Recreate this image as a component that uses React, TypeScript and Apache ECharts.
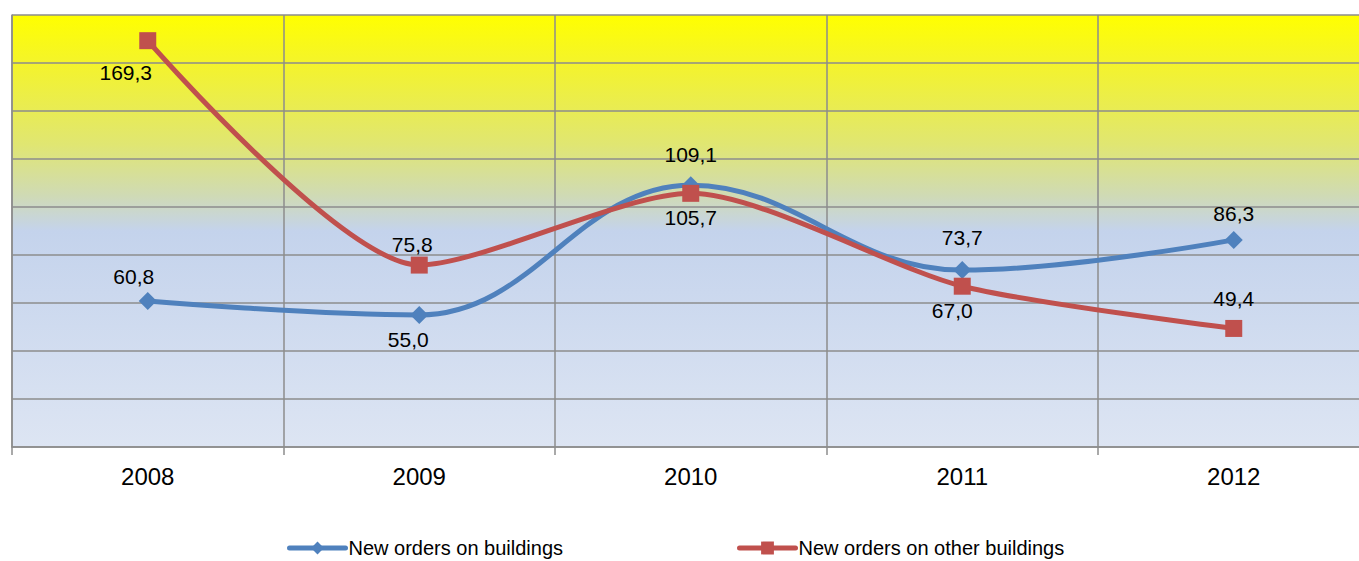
import React, { useEffect, useRef } from "react";
import * as echarts from "echarts";

const years = ["2008", "2009", "2010", "2011", "2012"];
const buildings = [60.8, 55.0, 109.1, 73.7, 86.3];
const otherBuildings = [169.3, 75.8, 105.7, 67.0, 49.4];
const blueLabelPos = ["top", "bottom", "top", "top", "top"];
const blueLabelOffset = [[-14, 0], [-11, 0], [0, -6], [0, -8], [0, -2]];
const redLabelPos = ["bottom", "top", "bottom", "bottom", "top"];
const redLabelOffset = [[-22, 8], [-7, 3], [0, 0], [-10, 0], [0, -6]];

const BLUE = "#4F81BD";
const RED = "#C0504D";
const labelFont = "'Liberation Sans Narrow', 'Arial Narrow', 'Liberation Sans', Arial, sans-serif";

function fmt(v: number) {
  return v.toFixed(1).replace(".", ",");
}

export default function App() {
  const ref = useRef<HTMLDivElement>(null);
  useEffect(() => {
    if (!ref.current) return;
    const chart = echarts.init(ref.current, undefined, { renderer: "svg" });
    const mkData = (vals: number[], pos: string[], off: number[][]) =>
      vals.map((v, i) => ({
        value: v,
        label: { position: pos[i], offset: off[i] },
      }));
    const legendCommon = {
      top: 538,
      padding: 0,
      itemWidth: 56,
      itemHeight: 16,
      itemGap: 4,
      lineStyle: { width: 5, cap: "round" },
      textStyle: { fontFamily: labelFont, fontSize: 20, color: "#000", padding: [0, 0, 0, -2] },
    };
    chart.setOption({
      animation: false,
      backgroundColor: "#ffffff",
      grid: {
        left: 12,
        top: 15,
        width: 1357.5,
        height: 432,
        outerBoundsMode: "none",
        containLabel: false,
        show: true,
        borderWidth: 0,
        backgroundColor: new echarts.graphic.LinearGradient(0, 0, 0, 1, [
          { offset: 0, color: "#FFFF00" },
          { offset: 0.12, color: "#F3F32E" },
          { offset: 0.3, color: "#E0E672" },
          { offset: 0.42, color: "#CFDAB6" },
          { offset: 0.5, color: "#C4D3EC" },
          { offset: 1, color: "#DDE5F3" },
        ]),
      },
      legend: [
        { ...legendCommon, left: 287, data: ["New orders on buildings"] },
        { ...legendCommon, left: 737, data: ["New orders on other buildings"] },
      ],
      xAxis: {
        type: "category",
        data: years,
        boundaryGap: true,
        axisLine: { show: true, lineStyle: { color: "#8C8C8C", width: 1.5 } },
        axisTick: { show: true, length: 8, lineStyle: { color: "#8C8C8C", width: 1.5 } },
        axisLabel: {
          color: "#000",
          fontSize: 24,
          fontFamily: "'Liberation Sans', Arial, sans-serif",
          margin: 17,
        },
        splitLine: { show: true, lineStyle: { color: "#8C8C8C", width: 1.5 } },
      },
      yAxis: {
        type: "value",
        min: 0,
        max: 180,
        interval: 20,
        axisLine: { show: true, lineStyle: { color: "#8C8C8C", width: 1.5 } },
        axisTick: { show: false },
        axisLabel: { show: false },
        splitLine: { show: true, lineStyle: { color: "#8C8C8C", width: 1.5 } },
      },
      series: [
        {
          name: "New orders on buildings",
          type: "line",
          smooth: 0.4,
          data: mkData(buildings, blueLabelPos, blueLabelOffset),
          symbol: "diamond",
          symbolSize: 18,
          lineStyle: { color: BLUE, width: 5 },
          itemStyle: { color: BLUE },
          label: {
            show: true,
            formatter: (p: any) => fmt(p.value),
            fontFamily: labelFont,
            fontSize: 21,
            color: "#000",
          },
        },
        {
          name: "New orders on other buildings",
          type: "line",
          smooth: 0.25,
          data: mkData(otherBuildings, redLabelPos, redLabelOffset),
          symbol: "rect",
          symbolSize: 17,
          lineStyle: { color: RED, width: 5 },
          itemStyle: { color: RED },
          label: {
            show: true,
            formatter: (p: any) => fmt(p.value),
            fontFamily: labelFont,
            fontSize: 21,
            color: "#000",
          },
        },
      ],
    });
    return () => chart.dispose();
  }, []);
  return (
    <div
      ref={ref}
      style={{ position: "fixed", left: 0, top: 0, width: 1359, height: 561 }}
    />
  );
}
